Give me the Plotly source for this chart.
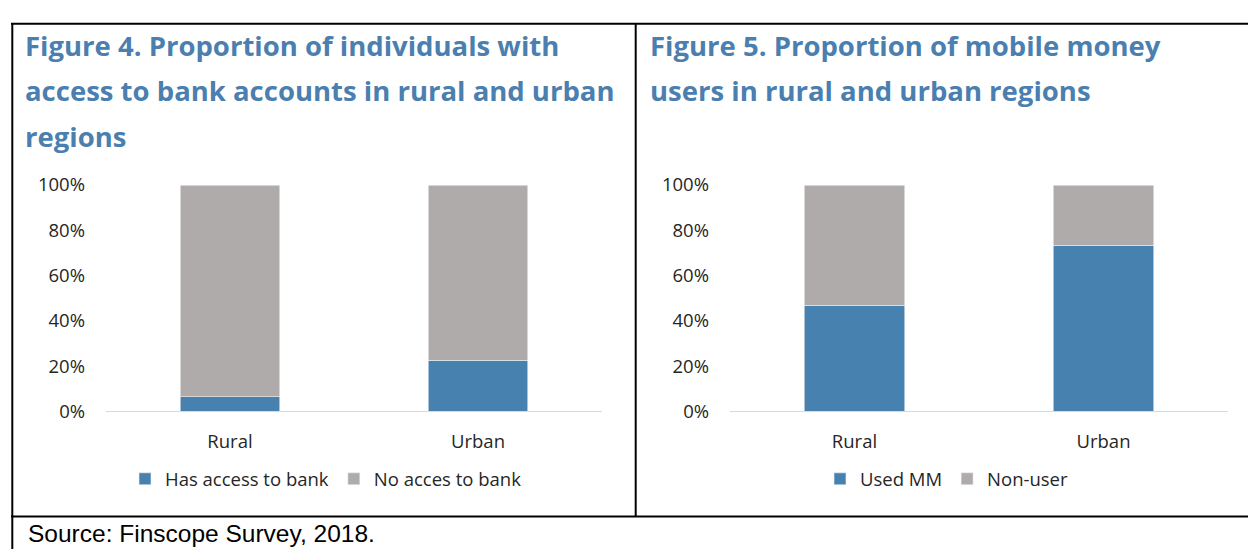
import plotly.graph_objects as go

# Data
regions = ["Rural", "Urban"]
bank_access = [0.065, 0.225]
no_bank_access = [0.935, 0.775]
mm_users = [0.47, 0.733]
mm_non_users = [0.53, 0.267]
y_ticks = [0, 0.2, 0.4, 0.6, 0.8, 1.0]

BLUE = "#4781AF"
GREY = "#AEABAA"
TITLE_BLUE = "#4A7FB0"
TEXT = "#262626"
W, H = 1248, 560


def px(x):
    return x / W


def py(y):
    return 1 - y / H


fig = go.Figure()
fig.add_trace(go.Bar(x=regions, y=bank_access, name="Has access to bank",
                     marker=dict(color=BLUE, line=dict(color="#F2F2F2", width=0.6)),
                     xaxis="x", yaxis="y", legend="legend"))
fig.add_trace(go.Bar(x=regions, y=no_bank_access, name="No acces to bank",
                     marker=dict(color=GREY, line=dict(color="#F2F2F2", width=0.6)),
                     xaxis="x", yaxis="y", legend="legend"))
fig.add_trace(go.Bar(x=regions, y=mm_users, name="Used MM",
                     marker=dict(color=BLUE, line=dict(color="#F2F2F2", width=0.6)),
                     xaxis="x2", yaxis="y2", legend="legend2"))
fig.add_trace(go.Bar(x=regions, y=mm_non_users, name="Non-user",
                     marker=dict(color=GREY, line=dict(color="#F2F2F2", width=0.6)),
                     xaxis="x2", yaxis="y2", legend="legend2"))

tick_font = dict(family="Open Sans", size=18.5, color=TEXT)
xcommon = dict(type="category", range=[-0.5, 1.5], showgrid=False, zeroline=False,
               showline=True, linecolor="#D9D9D9", linewidth=1, ticks="",
               tickfont=tick_font, ticklabelstandoff=13, fixedrange=True)
ycommon = dict(range=[0, 1], tickvals=y_ticks, tickformat=".0%", showgrid=False,
               zeroline=False, showline=False, ticks="", tickfont=tick_font,
               ticklabelstandoff=20, fixedrange=True)

plot_y = [py(416), py(179)]
legend_common = dict(orientation="h", yanchor="middle", y=py(487), xanchor="center",
                     font=dict(family="Open Sans", size=18.5, color=TEXT),
                     itemwidth=30, traceorder="normal", bgcolor="rgba(0,0,0,0)")

fig.update_layout(
    width=W, height=H, margin=dict(l=0, r=0, t=0, b=0),
    paper_bgcolor="white", plot_bgcolor="white",
    barmode="stack", bargap=0.597,
    xaxis=dict(domain=[px(106), px(602)], anchor="y", **xcommon),
    yaxis=dict(domain=plot_y, anchor="x", **ycommon),
    xaxis2=dict(domain=[px(730), px(1228)], anchor="y2", **xcommon),
    yaxis2=dict(domain=plot_y, anchor="x2", **ycommon),
    legend=dict(x=px(326), **legend_common),
    legend2=dict(x=px(947), **legend_common),
)

# Panel titles
title_font = dict(family="Open Sans", size=27.5, color=TITLE_BLUE, weight="bold")
titles = [
    (23, ["Figure 4. Proportion of individuals with",
          "access to bank accounts in rural and urban",
          "regions"]),
    (648, ["Figure 5. Proportion of mobile money",
           "users in rural and urban regions"]),
]
for x0, lines in titles:
    for i, line in enumerate(lines):
        fig.add_annotation(text=line, xref="paper", yref="paper", x=px(x0),
                           y=py(33 + 47.5 * i), xanchor="left", yanchor="middle",
                           showarrow=False, font=title_font)

# Source line
fig.add_annotation(text="Source: Finscope Survey, 2018.", xref="paper", yref="paper",
                   x=px(26), y=py(544), xanchor="left", yanchor="middle",
                   showarrow=False,
                   font=dict(family="Liberation Sans", size=24.5, color="black"))

# Table borders
border = dict(color="black", width=2)
fig.add_shape(type="line", xref="paper", yref="paper", x0=px(11), x1=1,
              y0=py(10.3), y1=py(10.3), line=border)
fig.add_shape(type="line", xref="paper", yref="paper", x0=px(12.3), x1=px(12.3),
              y0=py(9.3), y1=0, line=border)
fig.add_shape(type="line", xref="paper", yref="paper", x0=px(635.7), x1=px(635.7),
              y0=py(9.3), y1=py(526), line=border)
fig.add_shape(type="line", xref="paper", yref="paper", x0=px(11), x1=1,
              y0=py(526), y1=py(526), line=border)

fig.write_html("out.html")
